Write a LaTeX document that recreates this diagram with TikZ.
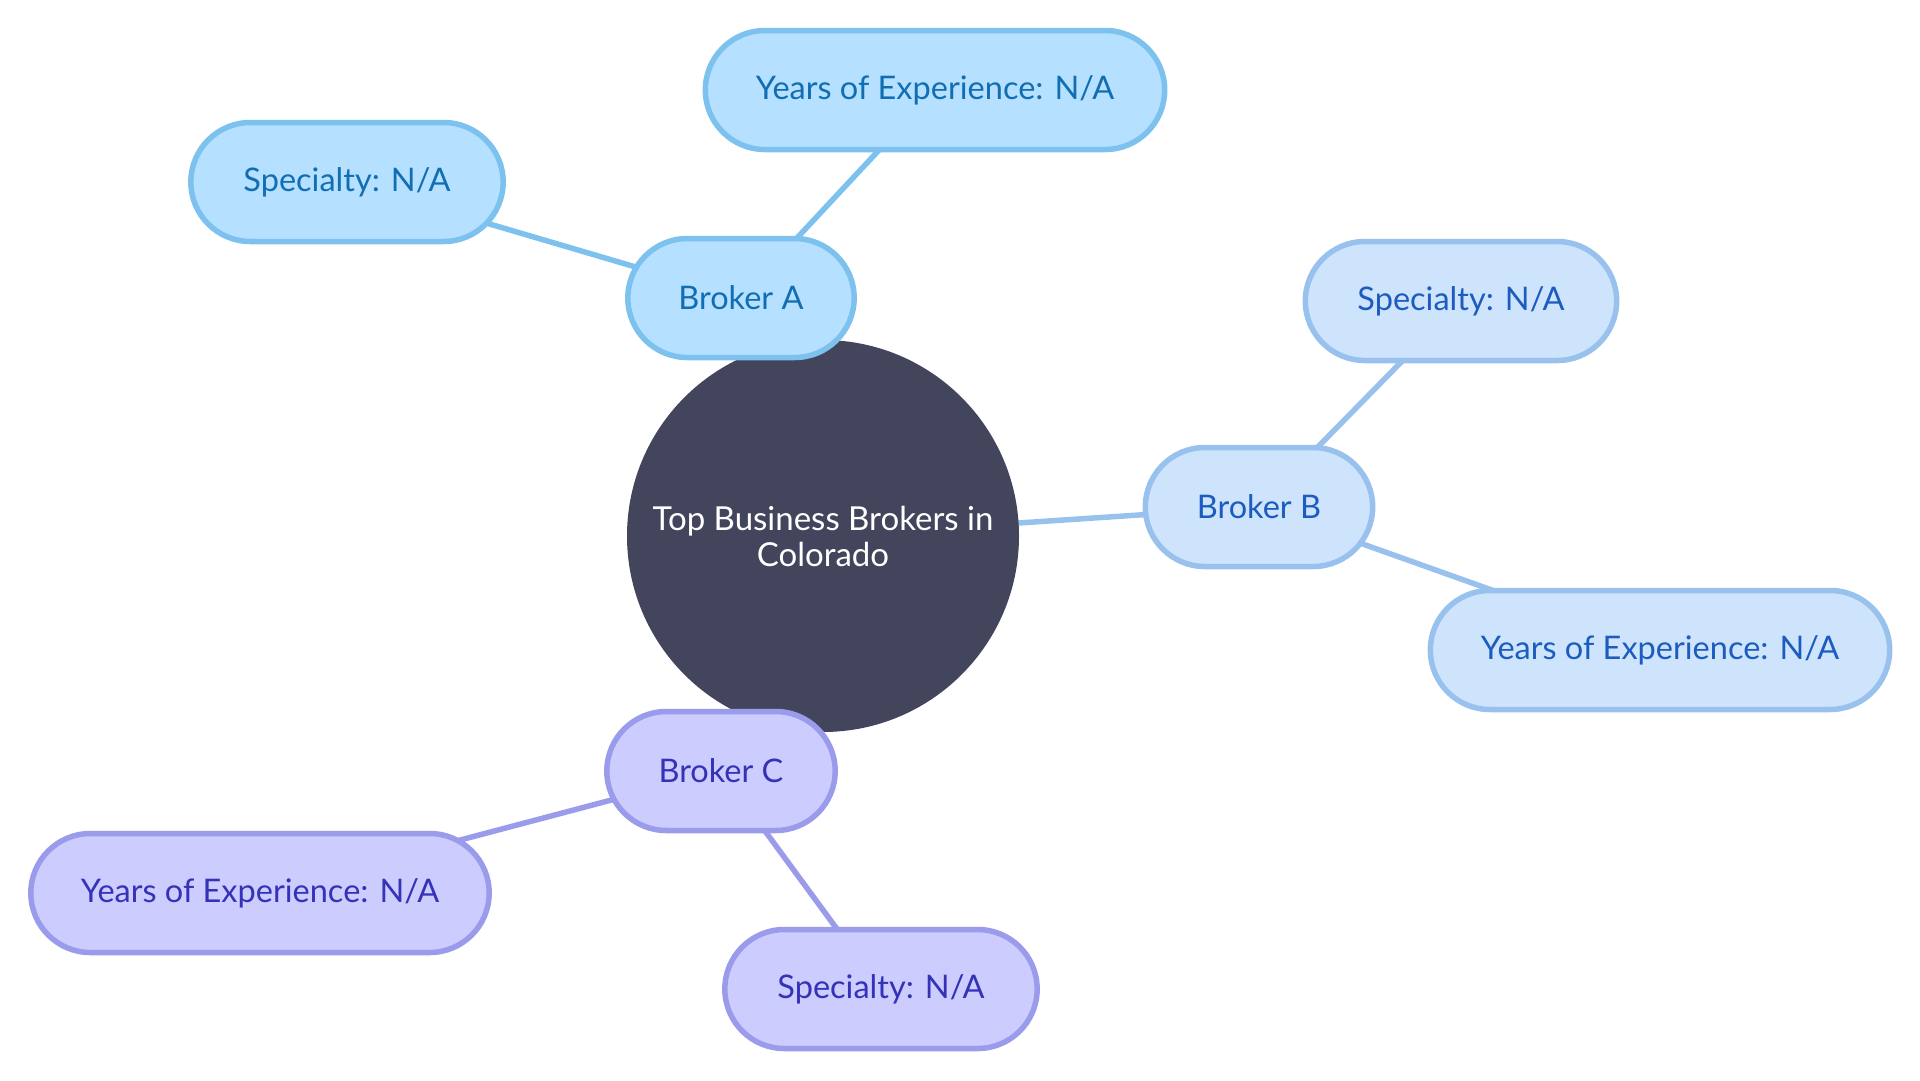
\documentclass[tikz,border=0pt]{standalone}
\usepackage{fontspec}
\setmainfont{Lato}
\usetikzlibrary{backgrounds,shapes.misc}
\definecolor{rootfill}{RGB}{66,69,92}
\definecolor{afill}{RGB}{181,224,255}
\definecolor{aline}{RGB}{125,193,238}
\definecolor{atext}{RGB}{18,110,178}
\definecolor{bfill}{RGB}{206,228,252}
\definecolor{bline}{RGB}{152,193,237}
\definecolor{btext}{RGB}{28,92,190}
\definecolor{cfill}{RGB}{204,204,255}
\definecolor{cline}{RGB}{155,155,235}
\definecolor{ctext}{RGB}{52,50,182}

\begin{document}
\begin{tikzpicture}[x=1pt,y=-1pt,
    pill/.style={rounded rectangle,line width=5.5pt,minimum height=119pt,font=\fontsize{32.5}{36}\selectfont},
    abox/.style={pill,draw=aline,fill=afill,text=atext},
    bbox/.style={pill,draw=bline,fill=bfill,text=btext},
    cbox/.style={pill,draw=cline,fill=cfill,text=ctext},
    link/.style={line width=5.5pt}
  ]
  \useasboundingbox (0,0) rectangle (1920,1080);

  \node[circle,fill=rootfill,text=white,minimum size=392pt,align=center,
        font=\fontsize{33}{36}\selectfont] (root) at (823,536) {Top Business Brokers in\\Colorado};

  % broker A
  \node[abox,minimum width=233pt] (brokerA) at (741,298) {Broker A};
  \node[abox,minimum width=466pt] (yearsA) at (935,90) {Years of Experience: N/A};
  \node[abox,minimum width=319pt] (specA) at (347,182) {Specialty: N/A};

  % broker B
  \node[bbox,minimum width=234pt] (brokerB) at (1259,507) {Broker B};
  \node[bbox,minimum width=318pt] (specB) at (1461,301) {Specialty: N/A};
  \node[bbox,minimum width=466pt] (yearsB) at (1660,650) {Years of Experience: N/A};

  % broker C
  \node[cbox,minimum width=235pt] (brokerC) at (721,771) {Broker C};
  \node[cbox,minimum width=465pt] (yearsC) at (260,893) {Years of Experience: N/A};
  \node[cbox,minimum width=319pt] (specC) at (881,989) {Specialty: N/A};

  \begin{pgfonlayer}{background}
    \draw[link,aline] (root) -- (brokerA);
    \draw[link,aline] (brokerA.center) -- (yearsA.center);
    \draw[link,aline] (brokerA.center) -- (specA.center);
    \draw[link,bline] (root.center) -- (brokerB.center);
    \draw[link,bline] (brokerB.center) -- (specB.center);
    \draw[link,bline] (brokerB.center) -- (yearsB.center);
    \draw[link,cline] (root) -- (brokerC);
    \draw[link,cline] (brokerC.center) -- (yearsC.center);
    \draw[link,cline] (brokerC.center) -- (specC.center);
  \end{pgfonlayer}
\end{tikzpicture}
\end{document}
